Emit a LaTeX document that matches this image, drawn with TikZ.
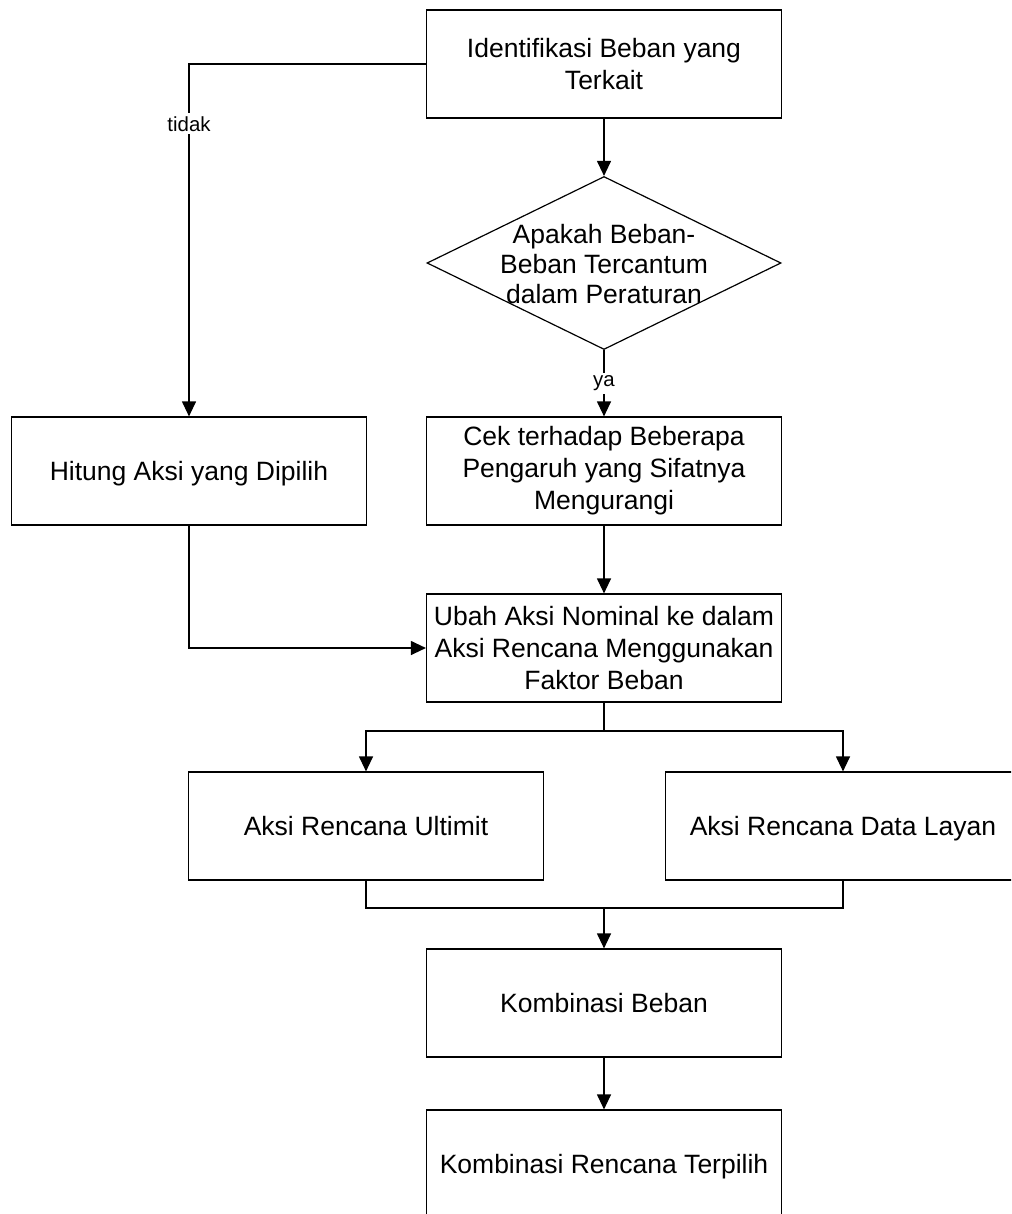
\documentclass[tikz,border=0pt]{standalone}
\usepackage{fontspec}
\setmainfont{Liberation Sans}
\usepackage{tikz}
\usetikzlibrary{arrows.meta,shapes.geometric}

\begin{document}
\begin{tikzpicture}[
    x=0.5pt, y=-0.5pt,
    line width=0.6pt,
    box/.style = {
      shape=rectangle,
      draw,
      align=center,
      minimum width=177.5pt,
      minimum height=54pt,
      font=\fontsize{13.25}{16}\selectfont
    },
    oneline/.style = {
      box,
      execute at begin node=\rule{0pt}{14.5pt},
      execute at end node=\strut
    },
    decision/.style = {
      shape=diamond,
      draw,
      inner sep=0pt,
      minimum width=177pt,
      minimum height=86.5pt
    },
    dectext/.style = {
      align=center,
      font=\fontsize{13.25}{15}\selectfont
    },
    lbl/.style = {
      fill=white,
      inner sep=1.5pt,
      font=\fontsize{10.2}{12}\selectfont
    },
    arrow/.style = {
      -{Triangle[length=7.5pt,width=7pt]}
    }
  ]

    \useasboundingbox (0,0) rectangle (1011,1214);
    \clip (0,0) rectangle (1011,1214);

    % Top node and decision
    \node[box] (identifikasi) at (604, 64) {Identifikasi Beban yang\\Terkait};
    \node[decision] (cekperaturan) at (604, 263) {};
    \node[dectext] (peraturantext) at (604, 264) {Apakah Beban-\\Beban Tercantum\\dalam Peraturan};

    % Second row
    \node[oneline] (hitung) at (189, 471) {Hitung Aksi yang Dipilih};
    \node[box] (pengaruh) at (604, 471) {Cek terhadap Beberapa\\Pengaruh yang Sifatnya\\Mengurangi};

    % Conversion into design actions
    \node[box] (ubah) at (604, 648) {Ubah Aksi Nominal ke dalam\\Aksi Rencana Menggunakan\\Faktor Beban};

    % Both kinds of design actions
    \node[oneline] (ultimit) at (366, 826) {Aksi Rencana Ultimit};
    \node[oneline] (layan) at (843, 826) {Aksi Rencana Data Layan};

    % Combinations at the bottom
    \node[oneline] (kombinasi) at (604, 1003) {Kombinasi Beban};
    \node[oneline] (terpilih) at (604, 1164) {Kombinasi Rencana Terpilih};

    \coordinate (split) at (604, 731);
    \coordinate (merge) at (604, 908);

    % Arrows
    \draw[arrow] (identifikasi) -- (cekperaturan);
    \draw[arrow] (identifikasi.west) -| (hitung.north)
      node[lbl, pos=0.585] (tidak) {tidak};
    \draw[arrow] (cekperaturan.south) -- (pengaruh.north)
      node[lbl, pos=0.5] (ya) {ya};
    \draw[arrow] (pengaruh) -- (ubah);
    \draw[arrow] (hitung.south) |- (ubah.west);
    \draw[arrow] (ubah.south) -- (split) -| (ultimit.north);
    \draw[arrow] (split) -| (layan.north);
    \draw (ultimit.south) |- (merge) -| (layan.south);
    \draw[arrow] (merge) -- (kombinasi);
    \draw[arrow] (kombinasi) -- (terpilih);

  \end{tikzpicture}
\end{document}
